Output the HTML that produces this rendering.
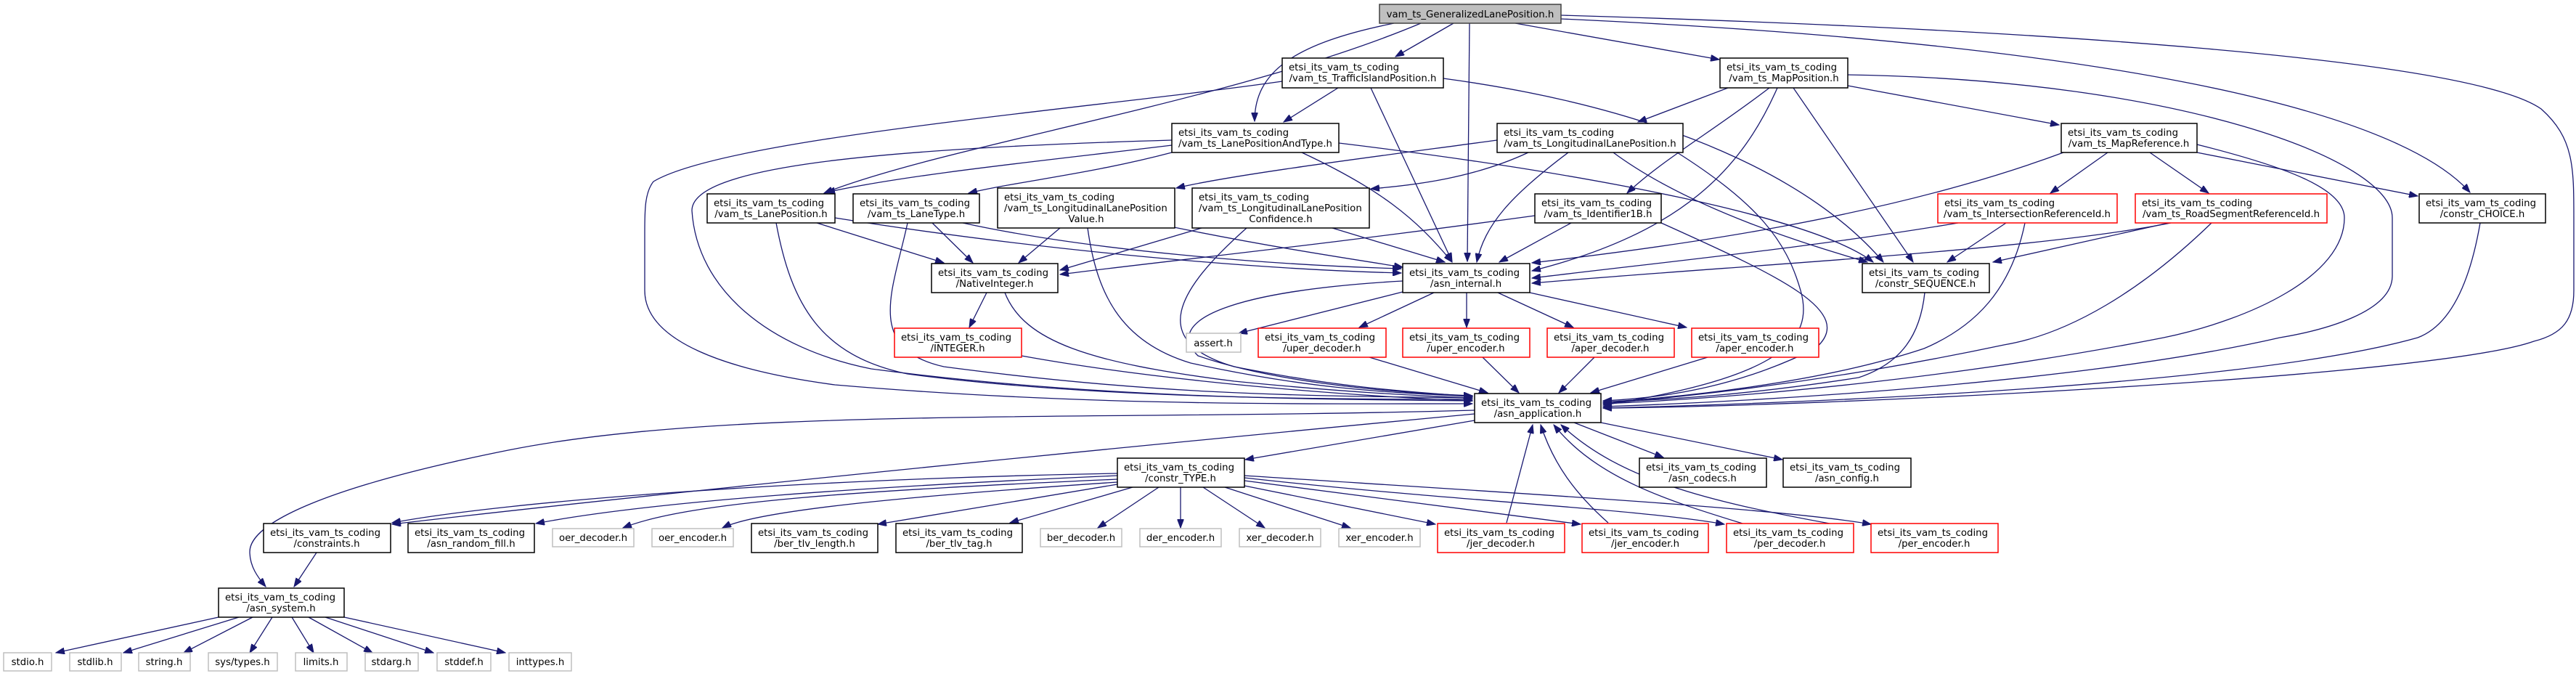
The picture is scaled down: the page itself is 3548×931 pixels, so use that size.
<!DOCTYPE html>
<html><head><meta charset="utf-8"><style>
html,body{margin:0;padding:0;background:#fff;}
svg{display:block;}
.e{fill:none;stroke:#191970;stroke-width:1.3;marker-end:url(#a);}
.n{fill:#fff;stroke:#000;stroke-width:1.5;}
.r{fill:#fff;stroke:#ff0000;stroke-width:1.5;}
.g{fill:#fff;stroke:#bfbfbf;stroke-width:1.5;}
text{font-family:"DejaVu Sans","Liberation Sans",sans-serif;font-size:13.3px;fill:#000;}
.m{text-anchor:middle;}
</style></head><body>
<svg width="3548" height="931" viewBox="0 0 3548 931" xmlns="http://www.w3.org/2000/svg">
<defs><marker id="a" markerUnits="userSpaceOnUse" markerWidth="13" markerHeight="9" refX="12" refY="4.5" orient="auto"><path d="M0,0 L12,4.5 L0,9 z" fill="#191970" stroke="#191970"/></marker></defs>
<g>
<!-- root edges -->
<path class="e" d="M2002,32 L1922,78"/>
<path class="e" d="M2087,32 L2368,82"/>
<path class="e" d="M2024,32 L2021,360"/>
<path class="e" d="M1920,32 C1780,60 1728,100 1728,167"/>
<path class="e" d="M1957,32 C1700,140 1300,200 1135,266"/>
<path class="e" d="M2150,21 C2800,40 3400,80 3500,150 C3545,190 3545,230 3545,300 L3545,400 C3545,440 3530,460 3490,470 C3350,520 2500,560 2208,562"/>
<path class="e" d="M2150,26 C2900,60 3300,150 3402,265"/>
<!-- TrafficIsland -->
<path class="e" d="M1843,121 L1768,168"/>
<path class="e" d="M1888,121 L2000,360"/>
<path class="e" d="M1988,108 C2300,150 2500,250 2594,361"/>
<path class="e" d="M1766,112 C1500,150 1000,190 900,250 C888,265 888,290 888,320 L888,400 C888,470 1000,510 1150,530 C1500,560 1800,556 2028,556"/>
<!-- LanePositionAndType -->
<path class="e" d="M1614,193 C1200,205 953,230 953,290 C960,400 1060,480 1200,508 C1500,548 1800,550 2028,552"/>
<path class="e" d="M1614,200 C1450,220 1250,240 1138,265"/>
<path class="e" d="M1614,210 C1500,240 1400,250 1334,266"/>
<path class="e" d="M1793,210 C1900,260 1950,300 2000,361"/>
<path class="e" d="M1844,197 C2200,240 2500,300 2580,361"/>
<!-- LongitudinalLanePosition -->
<path class="e" d="M2062,193 C1900,215 1700,240 1620,259"/>
<path class="e" d="M2105,210 C2030,245 1950,255 1888,260"/>
<path class="e" d="M2160,210 C2080,270 2045,310 2034,361"/>
<path class="e" d="M2222,210 C2330,290 2500,340 2572,361"/>
<path class="e" d="M2310,210 C2420,280 2460,330 2480,400 C2500,470 2450,520 2208,558"/>
<!-- MapPosition -->
<path class="e" d="M2380,121 L2256,168"/>
<path class="e" d="M2437,121 C2360,180 2290,220 2241,266"/>
<path class="e" d="M2448,121 C2400,230 2320,320 2110,373"/>
<path class="e" d="M2470,121 L2635,361"/>
<path class="e" d="M2545,118 L2836,172"/>
<path class="e" d="M2545,103 C3000,110 3295,220 3295,300 L3295,380 C3295,430 3200,455 3140,465 C2900,520 2500,550 2208,560"/>
<!-- MapReference -->
<path class="e" d="M2842,210 C2600,300 2300,340 2110,362"/>
<path class="e" d="M2903,210 L2824,266"/>
<path class="e" d="M2961,210 L3042,266"/>
<path class="e" d="M3026,210 L3330,270"/>
<path class="e" d="M3026,199 C3150,230 3229,260 3229,300 C3229,380 3100,440 2980,465 C2700,520 2400,548 2208,556"/>
<!-- IntersectionRefId / RoadSegment -->
<path class="e" d="M2697,307 C2500,340 2300,360 2110,383"/>
<path class="e" d="M2763,307 L2682,361"/>
<path class="e" d="M2789,307 C2770,400 2720,450 2650,480 C2500,530 2300,548 2208,554"/>
<path class="e" d="M2987,307 L2745,361"/>
<path class="e" d="M2990,307 C2800,345 2400,365 2110,390"/>
<path class="e" d="M3046,307 C2950,400 2850,460 2760,475 C2500,530 2300,548 2208,556"/>
<path class="e" d="M3416,307 C3400,400 3370,450 3330,465 C3100,530 2500,555 2208,562"/>
<path class="e" d="M2651,403 C2645,460 2620,500 2560,520 C2400,545 2300,550 2208,554"/>
<!-- Identifier1B -->
<path class="e" d="M2164,307 L2065,361"/>
<path class="e" d="M2114,297 C1800,340 1600,360 1460,378"/>
<path class="e" d="M2288,307 C2450,380 2560,430 2500,480 C2400,530 2300,548 2208,552"/>
<!-- LanePosition / LaneType / Value / Confidence -->
<path class="e" d="M1125,307 L1300,362"/>
<path class="e" d="M1150,300 C1400,340 1700,370 1930,376"/>
<path class="e" d="M1069,307 C1090,420 1130,490 1250,515 C1500,548 1800,550 2028,550"/>
<path class="e" d="M1284,307 L1340,362"/>
<path class="e" d="M1326,307 C1500,345 1750,365 1930,370"/>
<path class="e" d="M1250,307 C1230,400 1190,480 1300,505 C1600,545 1800,545 2028,548"/>
<path class="e" d="M1460,314 L1403,362"/>
<path class="e" d="M1617,313 C1750,340 1850,355 1932,368"/>
<path class="e" d="M1498,314 C1510,400 1540,470 1640,500 C1800,535 1900,540 2028,546"/>
<path class="e" d="M1655,314 C1550,345 1500,360 1460,372"/>
<path class="e" d="M1835,314 L1990,361"/>
<path class="e" d="M1717,314 C1620,400 1580,470 1700,505 C1850,535 1950,540 2028,546"/>
<!-- NativeInteger / asn_internal -->
<path class="e" d="M1359,403 L1335,451"/>
<path class="e" d="M1384,403 C1410,470 1500,500 1700,525 C1850,540 1950,545 2028,548"/>
<path class="e" d="M1407,490 C1600,525 1850,545 2028,552"/>
<path class="e" d="M1932,387 C1700,400 1600,440 1650,490 C1750,525 1900,540 2028,545"/>
<path class="e" d="M1932,402 L1706,459"/>
<path class="e" d="M1975,403 L1872,451"/>
<path class="e" d="M2020,403 L2020,451"/>
<path class="e" d="M2063,403 L2167,451"/>
<path class="e" d="M2107,403 L2323,451"/>
<path class="e" d="M1886,492 L2049,541"/>
<path class="e" d="M2042,492 L2092,541"/>
<path class="e" d="M2196,492 L2147,541"/>
<path class="e" d="M2352,492 L2191,541"/>
<!-- asn_application out -->
<path class="e" d="M2031,579 L1715,633"/>
<path class="e" d="M2168,582 L2291,630"/>
<path class="e" d="M2205,582 L2455,633"/>
<path class="e" d="M2031,570 C1500,620 900,680 540,722"/>
<path class="e" d="M2031,565 C1500,580 1000,560 700,620 C450,670 344,720 344,760 C344,780 355,795 366,808"/>
<!-- constr_TYPE -->
<path class="e" d="M1539,652 C1100,660 700,690 540,720"/>
<path class="e" d="M1539,655 C1200,670 900,690 738,721"/>
<path class="e" d="M1539,660 C1200,675 950,690 858,727"/>
<path class="e" d="M1539,664 C1300,680 1050,700 995,727"/>
<path class="e" d="M1539,667 L1209,722"/>
<path class="e" d="M1560,671 L1391,720"/>
<path class="e" d="M1596,671 L1512,727"/>
<path class="e" d="M1626,671 L1626,727"/>
<path class="e" d="M1657,671 L1742,727"/>
<path class="e" d="M1687,671 L1860,727"/>
<path class="e" d="M1714,669 L1977,722"/>
<path class="e" d="M1714,662 L2177,722"/>
<path class="e" d="M1714,658 C2000,690 2250,700 2375,722"/>
<path class="e" d="M1714,655 C2100,680 2450,700 2577,722"/>
<path class="e" d="M2075,720 L2111,585"/>
<path class="e" d="M2215,720 C2170,680 2140,640 2122,585"/>
<path class="e" d="M2400,721 C2300,690 2200,660 2140,585"/>
<path class="e" d="M2520,721 C2350,690 2230,660 2150,585"/>
<!-- asn_system -->
<path class="e" d="M436,761 L405,808"/>
<path class="e" d="M301,850 L77,899"/>
<path class="e" d="M329,850 L170,899"/>
<path class="e" d="M348,850 L253,899"/>
<path class="e" d="M375,850 L344,899"/>
<path class="e" d="M402,850 L432,899"/>
<path class="e" d="M425,850 L513,899"/>
<path class="e" d="M448,850 L597,899"/>
<path class="e" d="M474,850 L696,899"/>
</g>
<g>
<rect x="1900" y="6" width="250" height="26" fill="#bfbfbf" stroke="#404040" stroke-width="1.5"/>
<text class="m" x="2025" y="24">vam_ts_GeneralizedLanePosition.h</text>

<rect class="n" x="1766" y="80" width="222" height="41"/><text x="1775" y="97">etsi_its_vam_ts_coding</text><text class="m" x="1877" y="112">/vam_ts_TrafficIslandPosition.h</text>
<rect class="n" x="2369" y="80" width="176" height="41"/><text x="2378" y="97">etsi_its_vam_ts_coding</text><text class="m" x="2457" y="112">/vam_ts_MapPosition.h</text>
<rect class="n" x="1614" y="170" width="230" height="40"/><text x="1623" y="187">etsi_its_vam_ts_coding</text><text class="m" x="1729" y="202">/vam_ts_LanePositionAndType.h</text>
<rect class="n" x="2062" y="170" width="256" height="40"/><text x="2071" y="187">etsi_its_vam_ts_coding</text><text class="m" x="2190" y="202">/vam_ts_LongitudinalLanePosition.h</text>
<rect class="n" x="2839" y="170" width="187" height="40"/><text x="2848" y="187">etsi_its_vam_ts_coding</text><text class="m" x="2932" y="202">/vam_ts_MapReference.h</text>

<rect class="n" x="974" y="267" width="176" height="40"/><text x="983" y="284">etsi_its_vam_ts_coding</text><text class="m" x="1062" y="299">/vam_ts_LanePosition.h</text>
<rect class="n" x="1175" y="267" width="174" height="40"/><text x="1184" y="284">etsi_its_vam_ts_coding</text><text class="m" x="1262" y="299">/vam_ts_LaneType.h</text>
<rect class="n" x="1374" y="259" width="244" height="55"/><text x="1383" y="276">etsi_its_vam_ts_coding</text><text x="1383" y="291">/vam_ts_LongitudinalLanePosition</text><text class="m" x="1496" y="306">Value.h</text>
<rect class="n" x="1642" y="259" width="244" height="55"/><text x="1651" y="276">etsi_its_vam_ts_coding</text><text x="1651" y="291">/vam_ts_LongitudinalLanePosition</text><text class="m" x="1764" y="306">Confidence.h</text>
<rect class="n" x="2114" y="267" width="174" height="40"/><text x="2123" y="284">etsi_its_vam_ts_coding</text><text class="m" x="2201" y="299">/vam_ts_Identifier1B.h</text>
<rect class="r" x="2669" y="267" width="247" height="40"/><text x="2678" y="284">etsi_its_vam_ts_coding</text><text class="m" x="2792" y="299">/vam_ts_IntersectionReferenceId.h</text>
<rect class="r" x="2941" y="267" width="264" height="40"/><text x="2950" y="284">etsi_its_vam_ts_coding</text><text class="m" x="3073" y="299">/vam_ts_RoadSegmentReferenceId.h</text>
<rect class="n" x="3332" y="267" width="174" height="40"/><text x="3341" y="284">etsi_its_vam_ts_coding</text><text class="m" x="3419" y="299">/constr_CHOICE.h</text>

<rect class="n" x="1283" y="363" width="174" height="40"/><text x="1292" y="380">etsi_its_vam_ts_coding</text><text class="m" x="1370" y="395">/NativeInteger.h</text>
<rect class="n" x="1932" y="363" width="175" height="40"/><text x="1941" y="380">etsi_its_vam_ts_coding</text><text class="m" x="2019" y="395">/asn_internal.h</text>
<rect class="n" x="2565" y="363" width="175" height="40"/><text x="2574" y="380">etsi_its_vam_ts_coding</text><text class="m" x="2652" y="395">/constr_SEQUENCE.h</text>

<rect class="r" x="1232" y="452" width="175" height="40"/><text x="1241" y="469">etsi_its_vam_ts_coding</text><text class="m" x="1319" y="484">/INTEGER.h</text>
<rect class="g" x="1634" y="459" width="75" height="26"/><text class="m" x="1671" y="477">assert.h</text>
<rect class="r" x="1733" y="452" width="176" height="40"/><text x="1742" y="469">etsi_its_vam_ts_coding</text><text class="m" x="1821" y="484">/uper_decoder.h</text>
<rect class="r" x="1932" y="452" width="175" height="40"/><text x="1941" y="469">etsi_its_vam_ts_coding</text><text class="m" x="2019" y="484">/uper_encoder.h</text>
<rect class="r" x="2131" y="452" width="175" height="40"/><text x="2140" y="469">etsi_its_vam_ts_coding</text><text class="m" x="2218" y="484">/aper_decoder.h</text>
<rect class="r" x="2330" y="452" width="175" height="40"/><text x="2339" y="469">etsi_its_vam_ts_coding</text><text class="m" x="2417" y="484">/aper_encoder.h</text>

<rect class="n" x="2031" y="542" width="174" height="40"/><text x="2040" y="559">etsi_its_vam_ts_coding</text><text class="m" x="2118" y="574">/asn_application.h</text>
<rect class="n" x="1539" y="631" width="175" height="40"/><text x="1548" y="648">etsi_its_vam_ts_coding</text><text class="m" x="1626" y="663">/constr_TYPE.h</text>
<rect class="n" x="2258" y="631" width="175" height="40"/><text x="2267" y="648">etsi_its_vam_ts_coding</text><text class="m" x="2345" y="663">/asn_codecs.h</text>
<rect class="n" x="2456" y="631" width="176" height="40"/><text x="2465" y="648">etsi_its_vam_ts_coding</text><text class="m" x="2544" y="663">/asn_config.h</text>

<rect class="n" x="363" y="721" width="175" height="40"/><text x="372" y="738">etsi_its_vam_ts_coding</text><text class="m" x="450" y="753">/constraints.h</text>
<rect class="n" x="562" y="721" width="174" height="40"/><text x="571" y="738">etsi_its_vam_ts_coding</text><text class="m" x="649" y="753">/asn_random_fill.h</text>
<rect class="g" x="761" y="728" width="112" height="25"/><text class="m" x="817" y="745">oer_decoder.h</text>
<rect class="g" x="898" y="728" width="112" height="25"/><text class="m" x="954" y="745">oer_encoder.h</text>
<rect class="n" x="1035" y="721" width="174" height="40"/><text x="1044" y="738">etsi_its_vam_ts_coding</text><text class="m" x="1122" y="753">/ber_tlv_length.h</text>
<rect class="n" x="1234" y="721" width="174" height="40"/><text x="1243" y="738">etsi_its_vam_ts_coding</text><text class="m" x="1321" y="753">/ber_tlv_tag.h</text>
<rect class="g" x="1433" y="728" width="112" height="25"/><text class="m" x="1489" y="745">ber_decoder.h</text>
<rect class="g" x="1570" y="728" width="112" height="25"/><text class="m" x="1626" y="745">der_encoder.h</text>
<rect class="g" x="1707" y="728" width="112" height="25"/><text class="m" x="1763" y="745">xer_decoder.h</text>
<rect class="g" x="1844" y="728" width="112" height="25"/><text class="m" x="1900" y="745">xer_encoder.h</text>
<rect class="r" x="1980" y="721" width="175" height="40"/><text x="1989" y="738">etsi_its_vam_ts_coding</text><text class="m" x="2067" y="753">/jer_decoder.h</text>
<rect class="r" x="2179" y="721" width="174" height="40"/><text x="2188" y="738">etsi_its_vam_ts_coding</text><text class="m" x="2266" y="753">/jer_encoder.h</text>
<rect class="r" x="2378" y="721" width="175" height="40"/><text x="2387" y="738">etsi_its_vam_ts_coding</text><text class="m" x="2465" y="753">/per_decoder.h</text>
<rect class="r" x="2577" y="721" width="175" height="40"/><text x="2586" y="738">etsi_its_vam_ts_coding</text><text class="m" x="2664" y="753">/per_encoder.h</text>

<rect class="n" x="301" y="810" width="173" height="40"/><text x="310" y="827">etsi_its_vam_ts_coding</text><text class="m" x="387" y="842">/asn_system.h</text>

<rect class="g" x="5" y="899" width="66" height="25"/><text class="m" x="38" y="916">stdio.h</text>
<rect class="g" x="96" y="899" width="71" height="25"/><text class="m" x="131" y="916">stdlib.h</text>
<rect class="g" x="191" y="899" width="71" height="25"/><text class="m" x="226" y="916">string.h</text>
<rect class="g" x="287" y="899" width="95" height="25"/><text class="m" x="334" y="916">sys/types.h</text>
<rect class="g" x="407" y="899" width="71" height="25"/><text class="m" x="442" y="916">limits.h</text>
<rect class="g" x="503" y="899" width="73" height="25"/><text class="m" x="539" y="916">stdarg.h</text>
<rect class="g" x="602" y="899" width="74" height="25"/><text class="m" x="639" y="916">stddef.h</text>
<rect class="g" x="701" y="899" width="86" height="25"/><text class="m" x="744" y="916">inttypes.h</text>
</g>
</svg>
</body></html>
